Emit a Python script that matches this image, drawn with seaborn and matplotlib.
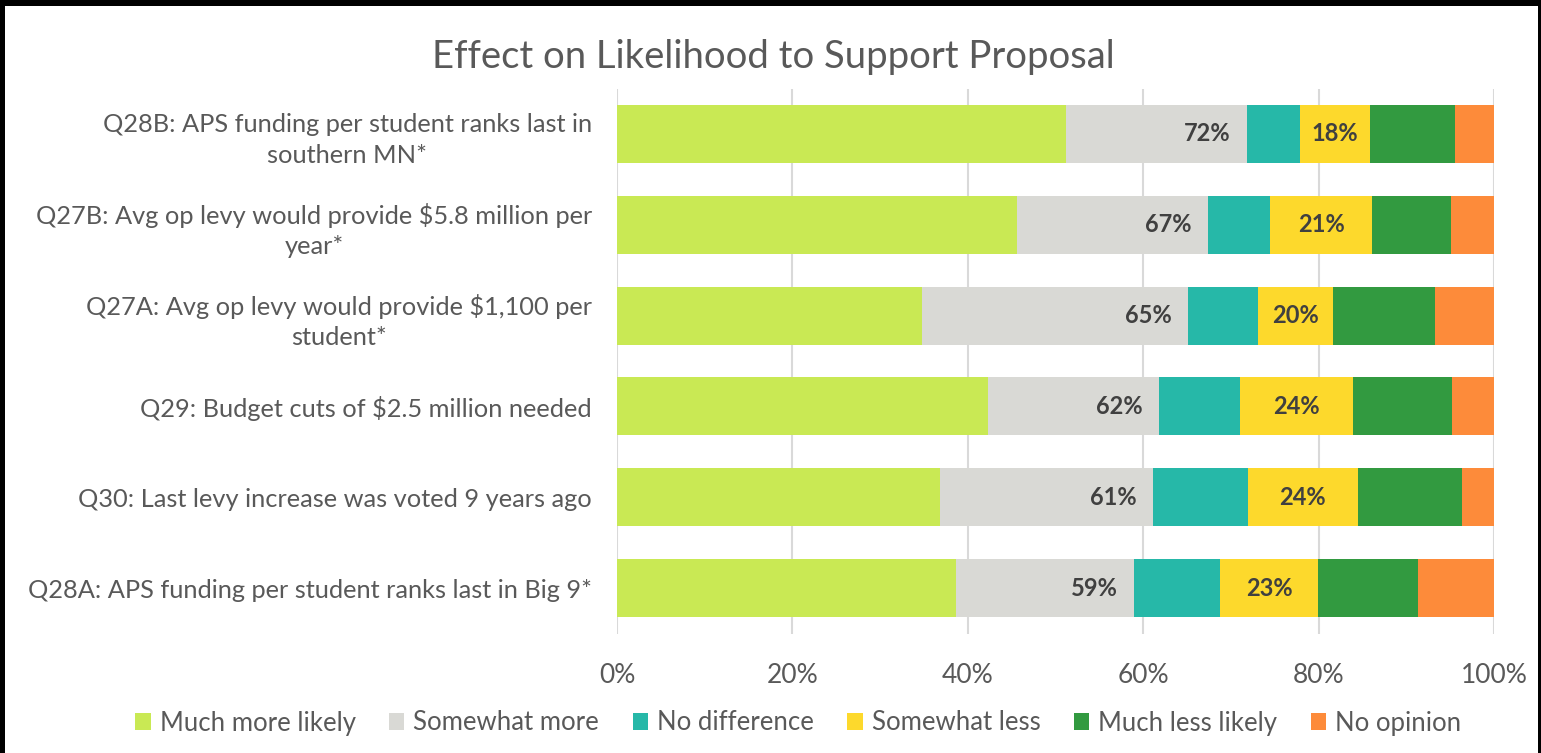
import matplotlib
matplotlib.use("Agg")
import matplotlib.pyplot as plt
from matplotlib.patches import Rectangle, Patch
import pandas as pd
import seaborn as sns

sns.set_style("white")
plt.rcParams['font.family'] = ['Lato', 'DejaVu Sans']

# survey items, top to bottom
questions = [
    "Q28B: APS funding per student ranks last in\nsouthern MN*",
    "Q27B: Avg op levy would provide $5.8 million per\nyear*",
    "Q27A: Avg op levy would provide $1,100 per\nstudent*",
    "Q29: Budget cuts of $2.5 million needed",
    "Q30: Last levy increase was voted 9 years ago",
    "Q28A: APS funding per student ranks last in Big 9*",
]
much_more = [51.2, 45.6, 34.8, 42.3, 36.8, 38.7]
somewhat_more = [20.6, 21.8, 30.3, 19.5, 24.3, 20.3]
no_difference = [6.1, 7.1, 8.0, 9.2, 10.8, 9.8]
somewhat_less = [8.0, 11.6, 8.5, 12.9, 12.6, 11.1]
much_less = [9.7, 9.0, 11.7, 11.3, 11.9, 11.4]
no_opinion = [4.4, 4.9, 6.7, 4.8, 3.6, 8.7]

more_labels = ["72%", "67%", "65%", "62%", "61%", "59%"]
less_labels = ["18%", "21%", "20%", "24%", "24%", "23%"]

series = ["Much more likely", "Somewhat more", "No difference",
          "Somewhat less", "Much less likely", "No opinion"]
colors = ["#C9E954", "#D9D9D5", "#26B8A8", "#FDD92C", "#329A40", "#FD8B3A"]

df = pd.DataFrame({
    "question": questions,
    series[0]: much_more,
    series[1]: somewhat_more,
    series[2]: no_difference,
    series[3]: somewhat_less,
    series[4]: much_less,
    series[5]: no_opinion,
})
cum = df[series].cumsum(axis=1)
cum["question"] = df["question"]

fig = plt.figure(figsize=(15.41, 7.53), dpi=100, facecolor="black")
fig.patches.append(Rectangle((5 / 1541, 0.0), 1 - 8 / 1541, 1 - 6 / 753,
                             transform=fig.transFigure, facecolor="white",
                             edgecolor="none", zorder=-1))
ax = fig.add_axes([617 / 1541, 1 - 633.5 / 753, 877 / 1541, 545 / 753])
ax.set_facecolor("white")

# stacked bars: draw cumulative totals from the back
for s, c in zip(series[::-1], colors[::-1]):
    sns.barplot(data=cum, y="question", x=s, color=c, width=0.64,
                saturation=1, ax=ax, zorder=3, edgecolor="none")

ax.set_xlim(0, 100)
ax.set_xticks(range(0, 101, 20))
ax.set_xticklabels([f"{v}%" for v in range(0, 101, 20)])
ax.grid(axis="x", color="#D9D9D9", linewidth=1.5, zorder=0)
for sp in ax.spines.values():
    sp.set_visible(False)
ax.set_xlabel("")
ax.set_ylabel("")
ax.tick_params(axis="x", labelsize=19, colors="#595959", length=0, pad=21)
ax.tick_params(axis="y", labelsize=18.3, colors="#595959", length=0, pad=18)
for t in ax.get_yticklabels():
    t.set_multialignment("center")
    t.set_linespacing(1.4)

# summary labels
for i in range(len(questions)):
    more_end = much_more[i] + somewhat_more[i]
    ax.text(more_end - 1.9, i, more_labels[i], ha="right", va="center",
            fontsize=17, fontweight="bold", color="#404040", zorder=5)
    less_start = more_end + no_difference[i]
    less_mid = less_start + somewhat_less[i] / 2
    ax.text(less_mid, i, less_labels[i], ha="center", va="center",
            fontsize=17, fontweight="bold", color="#404040", zorder=5)

fig.text(0.502, 1 - 57 / 753, "Effect on Likelihood to Support Proposal",
         ha="center", va="center", fontsize=27.5, color="#595959")

handles = [Patch(facecolor=c, edgecolor="none", label=s)
           for s, c in zip(series, colors)]
fig.legend(handles=handles, loc="center", bbox_to_anchor=(0.518, 1 - 723 / 753),
           ncol=6, frameon=False, fontsize=18.5, handlelength=0.6,
           handleheight=0.6, handletextpad=0.35, columnspacing=1.3,
           labelcolor="#595959")

fig.savefig("out.png", dpi=100, facecolor="black")
